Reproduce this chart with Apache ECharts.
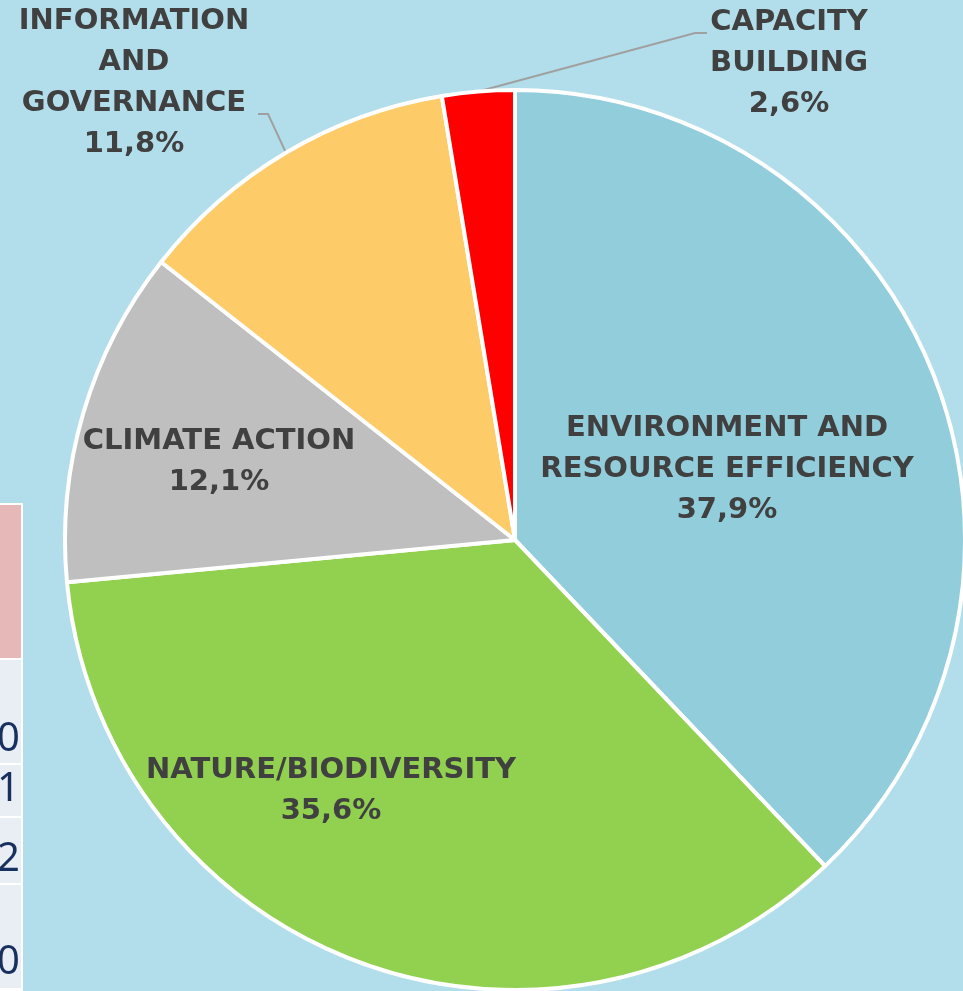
<!DOCTYPE html>
<html><head><meta charset="utf-8">
<script src="https://cdn.jsdelivr.net/npm/echarts@6/dist/echarts.min.js"></script>
<style>html,body{margin:0;padding:0;background:#b2deeb;} #c{width:963px;height:991px;}</style>
</head><body><div id="c"></div>
<script>
// ---- data ----
const categories = ['ENVIRONMENT AND RESOURCE EFFICIENCY', 'NATURE/BIODIVERSITY', 'CLIMATE ACTION', 'INFORMATION AND GOVERNANCE', 'CAPACITY BUILDING'];
const labelTexts = ['ENVIRONMENT AND\nRESOURCE EFFICIENCY', 'NATURE/BIODIVERSITY', 'CLIMATE ACTION', 'INFORMATION\nAND\nGOVERNANCE', 'CAPACITY\nBUILDING'];
const shares = [37.9, 35.6, 12.1, 11.8, 2.6];
const tableDigits = ['0', '1', '2', '0'];

// ---- styling / layout ----
const sliceColors = ['#92cddc', '#92d050', '#bfbfbf', '#fecb69', '#ff0000'];
const outsideIdx = [3, 4];
const labelCenters = [[727, 469], [331, 791], [219, 462], [134, 83], [789, 63]];
const labelLineBends = { 3: [[268, 114], [258, 114]], 4: [[695, 33], [707, 33]] };

const chart = echarts.init(document.getElementById('c'), null, { renderer: 'canvas' });

const pieData = categories.map((name, i) => ({
  name: name,
  value: shares[i],
  itemStyle: { color: sliceColors[i] },
  label: { position: outsideIdx.includes(i) ? 'outside' : 'inside' },
  labelLine: { show: outsideIdx.includes(i) }
}));

// table fragment at left edge
const cellRows = [[660, 103], [765, 51], [818, 65], [885, 103]];
const digitY = [740, 790, 860, 963];
const graphics = [
  { type: 'rect', shape: { x: -6, y: 503, width: 29, height: 500 }, style: { fill: '#ffffff' }, silent: true },
  { type: 'rect', shape: { x: -6, y: 505, width: 27, height: 153 }, style: { fill: '#e6b8b7' }, silent: true }
];
cellRows.forEach(r => graphics.push({ type: 'rect', shape: { x: -6, y: r[0], width: 27, height: r[1] }, style: { fill: '#e9edf4' }, silent: true }));
tableDigits.forEach((d, i) => graphics.push({
  type: 'text', silent: true,
  style: { text: d, x: 20, y: digitY[i], align: 'right', verticalAlign: 'middle', fontSize: 40, fontFamily: '"Noto Sans"', fill: '#17305f' }
}));

chart.setOption({
  backgroundColor: '#b2deeb',
  animation: false,
  graphic: graphics,
  series: [{
    type: 'pie',
    center: [515, 540],
    radius: [0, 450],
    startAngle: 90,
    clockwise: true,
    avoidLabelOverlap: false,
    itemStyle: { borderColor: '#ffffff', borderWidth: 4 },
    label: {
      show: true,
      formatter: p => labelTexts[p.dataIndex] + '\n' + p.value.toFixed(1).replace('.', ',') + '%',
      fontFamily: '"DejaVu Sans"',
      fontWeight: 'bold',
      fontSize: 29,
      lineHeight: 41,
      color: '#404040',
      align: 'center'
    },
    labelLine: { show: true, length: 40, length2: 10, lineStyle: { color: '#a0a0a0', width: 2 } },
    labelLayout: function (params) {
      const i = params.dataIndex;
      const c = labelCenters[i];
      const out = { x: c[0], y: c[1], align: 'center', verticalAlign: 'middle' };
      if (labelLineBends[i] && params.labelLinePoints) {
        out.labelLinePoints = [params.labelLinePoints[0]].concat(labelLineBends[i]);
      }
      return out;
    },
    emphasis: { disabled: true },
    data: pieData
  }]
});
</script>
</body></html>
